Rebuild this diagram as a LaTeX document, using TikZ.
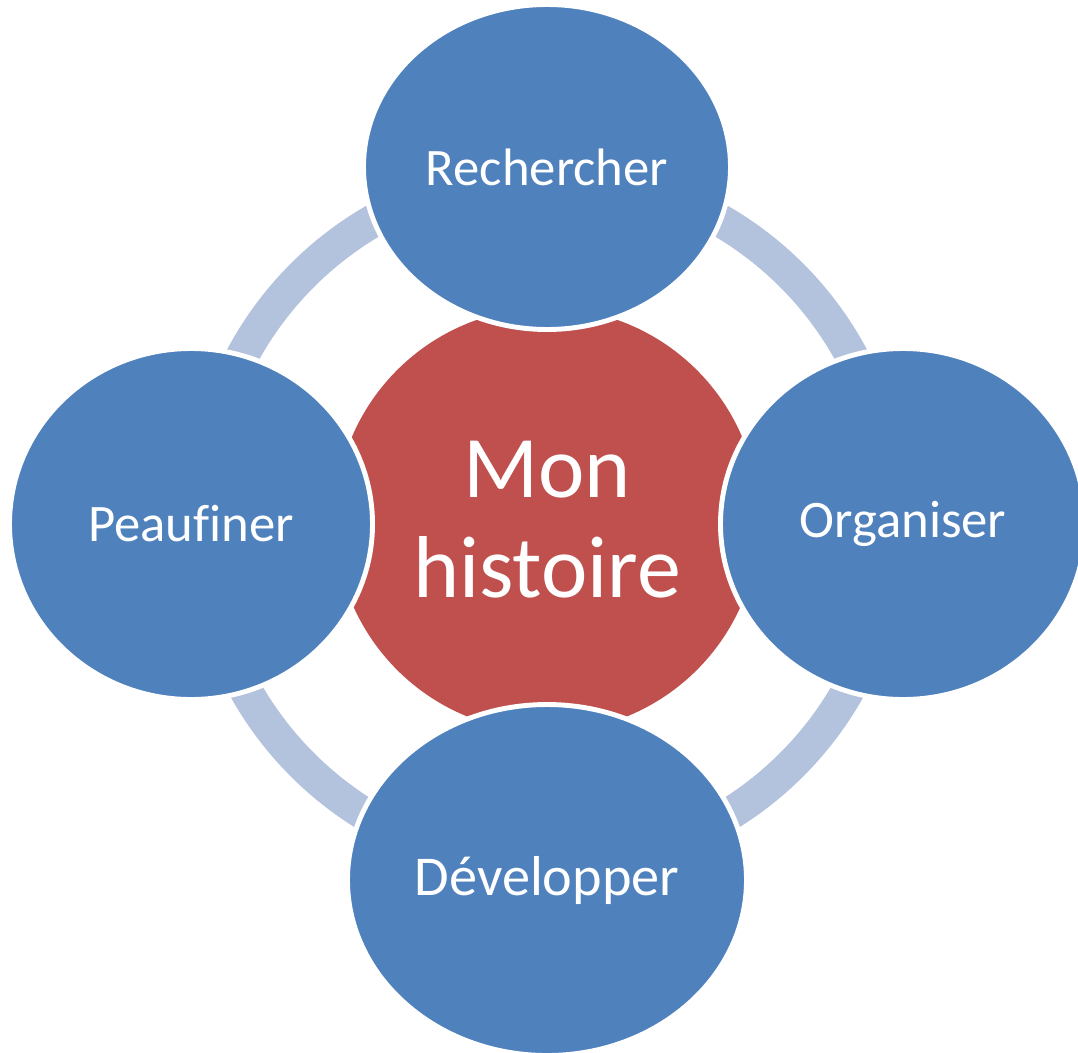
\documentclass[tikz,border=0pt]{standalone}
\usepackage{fontspec}
\setmainfont{Carlito}[Ligatures=NoCommon]
\usetikzlibrary{shapes.geometric}
\definecolor{stepblue}{RGB}{79,129,189}
\definecolor{corered}{RGB}{192,80,77}
\definecolor{ringblue}{RGB}{179,194,221}

\begin{document}
\begin{tikzpicture}[
    phase/.style={ellipse, fill=stepblue, draw=white, line width=2.8pt, inner sep=0pt, text=white, font=\fontsize{30}{36}\selectfont},
    core/.style={circle, fill=corered, minimum size=8.48cm, inner sep=0pt, text=white, align=center, font=\fontsize{50}{57}\selectfont},
    ring/.style={draw=ringblue, line width=0.66cm}
]
    \clip (0,0) rectangle (21.56,-21.04);
    % Centre
    \node[core] (hist) at (10.94,-10.40) {Mon\\histoire};
    % Ring segments between the steps
    \foreach \a in {10,-80,-170,100}
        \draw[ring] ([shift={(\a:6.92)}]hist.center) arc[start angle=\a, end angle=\a+70, radius=6.92];
    % Steps
    \node[phase, minimum width=7.34cm, minimum height=6.50cm] (rech) at (10.94,-3.34) {Rechercher};
    \node[phase, minimum width=7.30cm, minimum height=7.02cm] (orga) at (18.06,-10.48) {Organiser};
    \node[phase, minimum width=7.98cm, minimum height=7.02cm, font=\fontsize{32}{38}\selectfont] (dev) at (10.94,-17.60) {Développer};
    \node[phase, minimum width=7.26cm, minimum height=7.02cm] (peau) at (3.82,-10.48) {Peaufiner};
\end{tikzpicture}
\end{document}
